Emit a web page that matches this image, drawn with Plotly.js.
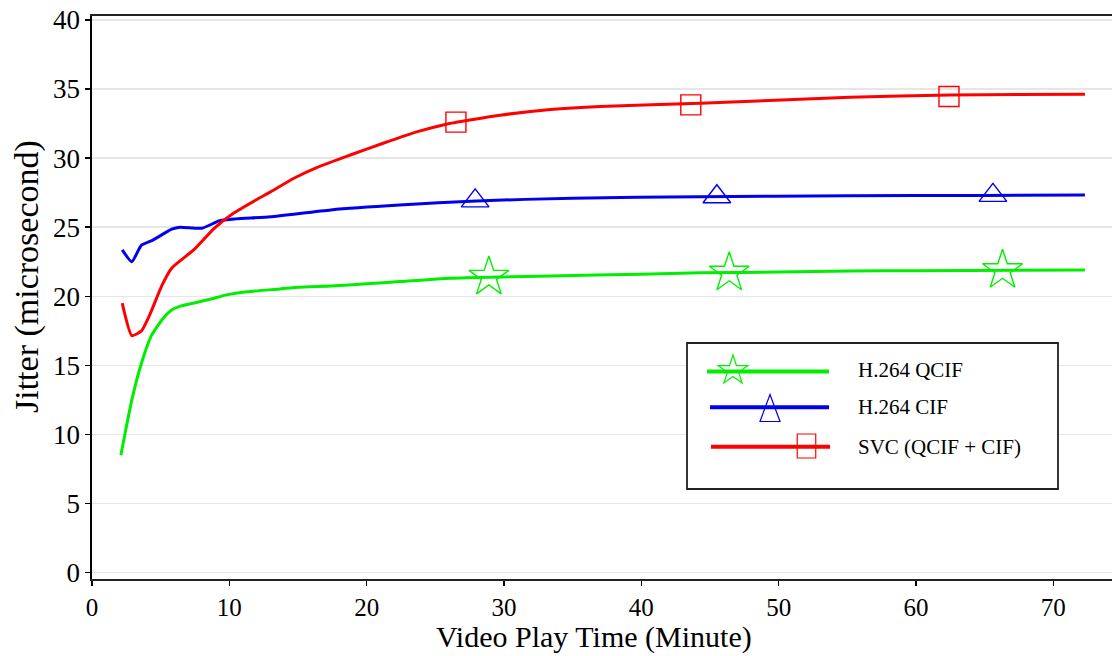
<!DOCTYPE html>
<html>
<head>
<meta charset="utf-8">
<script src="https://cdn.plot.ly/plotly-3.0.1.min.js"></script>
<style>html,body{margin:0;padding:0;background:#fff;}#chart{width:1112px;height:656px;}</style>
</head>
<body>
<div id="chart"></div>
<script>
// ---- data ----
const qcifX = [2.1, 2.9, 3.6, 4.3, 5.1, 5.8, 6.5, 8.6, 9.8, 11.3, 13.7, 15.0, 17.4, 20.0, 22.4, 26.1, 30.0, 33.4, 40.0, 44.3, 50.0, 55.2, 60.0, 72.3];
const qcifY = [8.5, 12.5, 15.15, 17.1, 18.3, 19.0, 19.3, 19.78, 20.1, 20.33, 20.53, 20.65, 20.75, 20.9, 21.06, 21.3, 21.4, 21.47, 21.6, 21.7, 21.75, 21.83, 21.85, 21.9];
const cifX = [2.2, 2.9, 3.6, 4.4, 5.8, 6.4, 8.0, 9.3, 10.5, 13.0, 17.4, 22.4, 28.0, 35.0, 44.3, 55.0, 65.0, 72.3];
const cifY = [23.35, 22.5, 23.7, 24.05, 24.85, 25.0, 24.92, 25.47, 25.6, 25.76, 26.25, 26.6, 26.9, 27.1, 27.2, 27.27, 27.3, 27.33];
const svcX = [2.2, 2.9, 3.6, 4.2, 5.1, 5.8, 7.4, 8.9, 10.3, 12.0, 13.0, 14.7, 16.4, 18.8, 21.2, 23.7, 25.8, 27.5, 29.7, 33.4, 37.0, 44.3, 55.2, 62.5, 72.3];
const svcY = [19.5, 17.15, 17.49, 18.65, 20.8, 22.03, 23.35, 24.92, 26.0, 27.0, 27.55, 28.54, 29.33, 30.22, 31.07, 31.91, 32.45, 32.75, 33.1, 33.52, 33.74, 33.96, 34.4, 34.57, 34.62];
// marker positions on each curve
const qcifMarkX = [28.9, 46.4, 66.3];
const qcifMarkY = [21.4, 21.7, 21.88];
const cifMarkX = [27.9, 45.5, 65.6];
const cifMarkY = [26.9, 27.2, 27.3];
const svcMarkX = [26.5, 43.6, 62.4];
const svcMarkY = [32.6, 33.85, 34.45];
const seriesNames = ['H.264 QCIF', 'H.264 CIF', 'SVC (QCIF + CIF)'];
const seriesColors = ['#00ee00', '#0000ee', '#ff0000'];
const xTitle = 'Video Play Time (Minute)';
const yTitle = 'Jitter (microsecond)';

// ---- layout geometry ----
const W = 1112, H = 656;
const M = {l: 92, r: 0, t: 16, b: 77};
const PW = W - M.l - M.r, PH = H - M.t - M.b;
const fx = px => (px - M.l) / PW;
const fy = py => (H - M.b - py) / PH;
const FONT = 'Liberation Serif';

function lineTrace(x, y, i) {
  return {x: x, y: y, type: 'scatter', mode: 'lines', name: seriesNames[i],
          line: {color: seriesColors[i], width: 3, shape: 'spline', smoothing: 0.5},
          showlegend: false, hoverinfo: 'skip'};
}
function markTrace(x, y, i, symbol, size) {
  return {x: x, y: y, type: 'scatter', mode: 'markers', name: seriesNames[i],
          marker: {symbol: symbol, size: size, color: seriesColors[i],
                   line: {color: seriesColors[i], width: 1.4}},
          showlegend: false, hoverinfo: 'skip'};
}

const data = [
  lineTrace(qcifX, qcifY, 0),
  lineTrace(cifX, cifY, 1),
  lineTrace(svcX, svcY, 2),
  markTrace(qcifMarkX, qcifMarkY, 0, 'star-open', 30),
  markTrace(cifMarkX, cifMarkY, 1, 'triangle-up-open', 24),
  markTrace(svcMarkX, svcMarkY, 2, 'square-open', 20)
];

// ---- custom legend ----
function starPath(R) {
  const ri = R * 0.382;
  let p = '';
  for (let k = 0; k < 10; k++) {
    const r = (k % 2 === 0) ? R : ri;
    const a = Math.PI / 2 + k * Math.PI / 5;
    const x = (r * Math.cos(a)).toFixed(2), y = (r * Math.sin(a)).toFixed(2);
    p += (k === 0 ? 'M' : 'L') + x + ',' + y;
  }
  return p + 'Z';
}
const shapes = [
  {type: 'rect', xref: 'paper', yref: 'paper', x0: fx(687), x1: fx(1058), y0: fy(343), y1: fy(489),
   fillcolor: '#ffffff', line: {color: '#222', width: 1.8}, layer: 'above'}
];
const legRows = [
  {y: 371.5, x0: 707, x1: 829, ty: 370},
  {y: 407.3, x0: 710, x1: 829, ty: 407},
  {y: 446.7, x0: 711, x1: 830, ty: 447}
];
legRows.forEach((r, i) => {
  shapes.push({type: 'line', xref: 'paper', yref: 'paper', x0: fx(r.x0), x1: fx(r.x1), y0: fy(r.y), y1: fy(r.y),
               line: {color: seriesColors[i], width: 4}, layer: 'above'});
});
shapes.push({type: 'path', xref: 'paper', yref: 'paper', xsizemode: 'pixel', ysizemode: 'pixel',
             xanchor: fx(733), yanchor: fy(370.5), path: starPath(15.5),
             line: {color: seriesColors[0], width: 1.2}, layer: 'above'});
shapes.push({type: 'path', xref: 'paper', yref: 'paper', xsizemode: 'pixel', ysizemode: 'pixel',
             xanchor: fx(770), yanchor: fy(408), path: 'M0,13.5L10,-13.5L-10,-13.5Z',
             line: {color: seriesColors[1], width: 1.2}, layer: 'above'});
shapes.push({type: 'rect', xref: 'paper', yref: 'paper', xsizemode: 'pixel', ysizemode: 'pixel',
             xanchor: fx(806.5), yanchor: fy(446), x0: -9.25, x1: 9.25, y0: -12, y1: 12,
             line: {color: seriesColors[2], width: 1.2}, layer: 'above'});

const annotations = legRows.map((r, i) => ({
  xref: 'paper', yref: 'paper', x: fx(856), y: fy(r.ty), xanchor: 'left', yanchor: 'middle',
  text: seriesNames[i], showarrow: false, font: {family: FONT, size: 21, color: '#000'}
}));
// axis titles
annotations.push({xref: 'paper', yref: 'paper', x: fx(594), y: fy(656), xanchor: 'center', yanchor: 'bottom',
  text: xTitle, showarrow: false, font: {family: FONT, size: 30, color: '#000'}});
annotations.push({xref: 'paper', yref: 'paper', x: fx(27), y: fy(277), xanchor: 'center', yanchor: 'middle',
  textangle: -90, text: yTitle, showarrow: false, font: {family: FONT, size: 34, color: '#000'}});

const layout = {
  width: W, height: H,
  margin: M,
  paper_bgcolor: '#fff', plot_bgcolor: '#fff',
  showlegend: false,
  font: {family: FONT, color: '#000'},
  xaxis: {
    range: [0, 74.27], tickvals: [0, 10, 20, 30, 40, 50, 60, 70],
    showgrid: false, zeroline: false,
    showline: true, linecolor: '#222', linewidth: 1.6, mirror: true,
    ticks: 'outside', ticklen: 5, tickwidth: 1.5, tickcolor: '#000',
    tickfont: {family: FONT, size: 25, color: '#000'},
    automargin: false
  },
  yaxis: {
    range: [-0.46, 40.28], tickvals: [0, 5, 10, 15, 20, 25, 30, 35, 40],
    showgrid: true, gridcolor: '#e6e6e6', gridwidth: 1.5, zeroline: false,
    showline: true, linecolor: '#000', linewidth: 1.6,
    ticks: 'outside', ticklen: 5, tickwidth: 1.5, tickcolor: '#000',
    tickfont: {family: FONT, size: 27, color: '#000'},
    automargin: false
  },
  shapes: shapes,
  annotations: annotations
};

Plotly.newPlot('chart', data, layout, {displayModeBar: false, staticPlot: true});
</script>
</body>
</html>
